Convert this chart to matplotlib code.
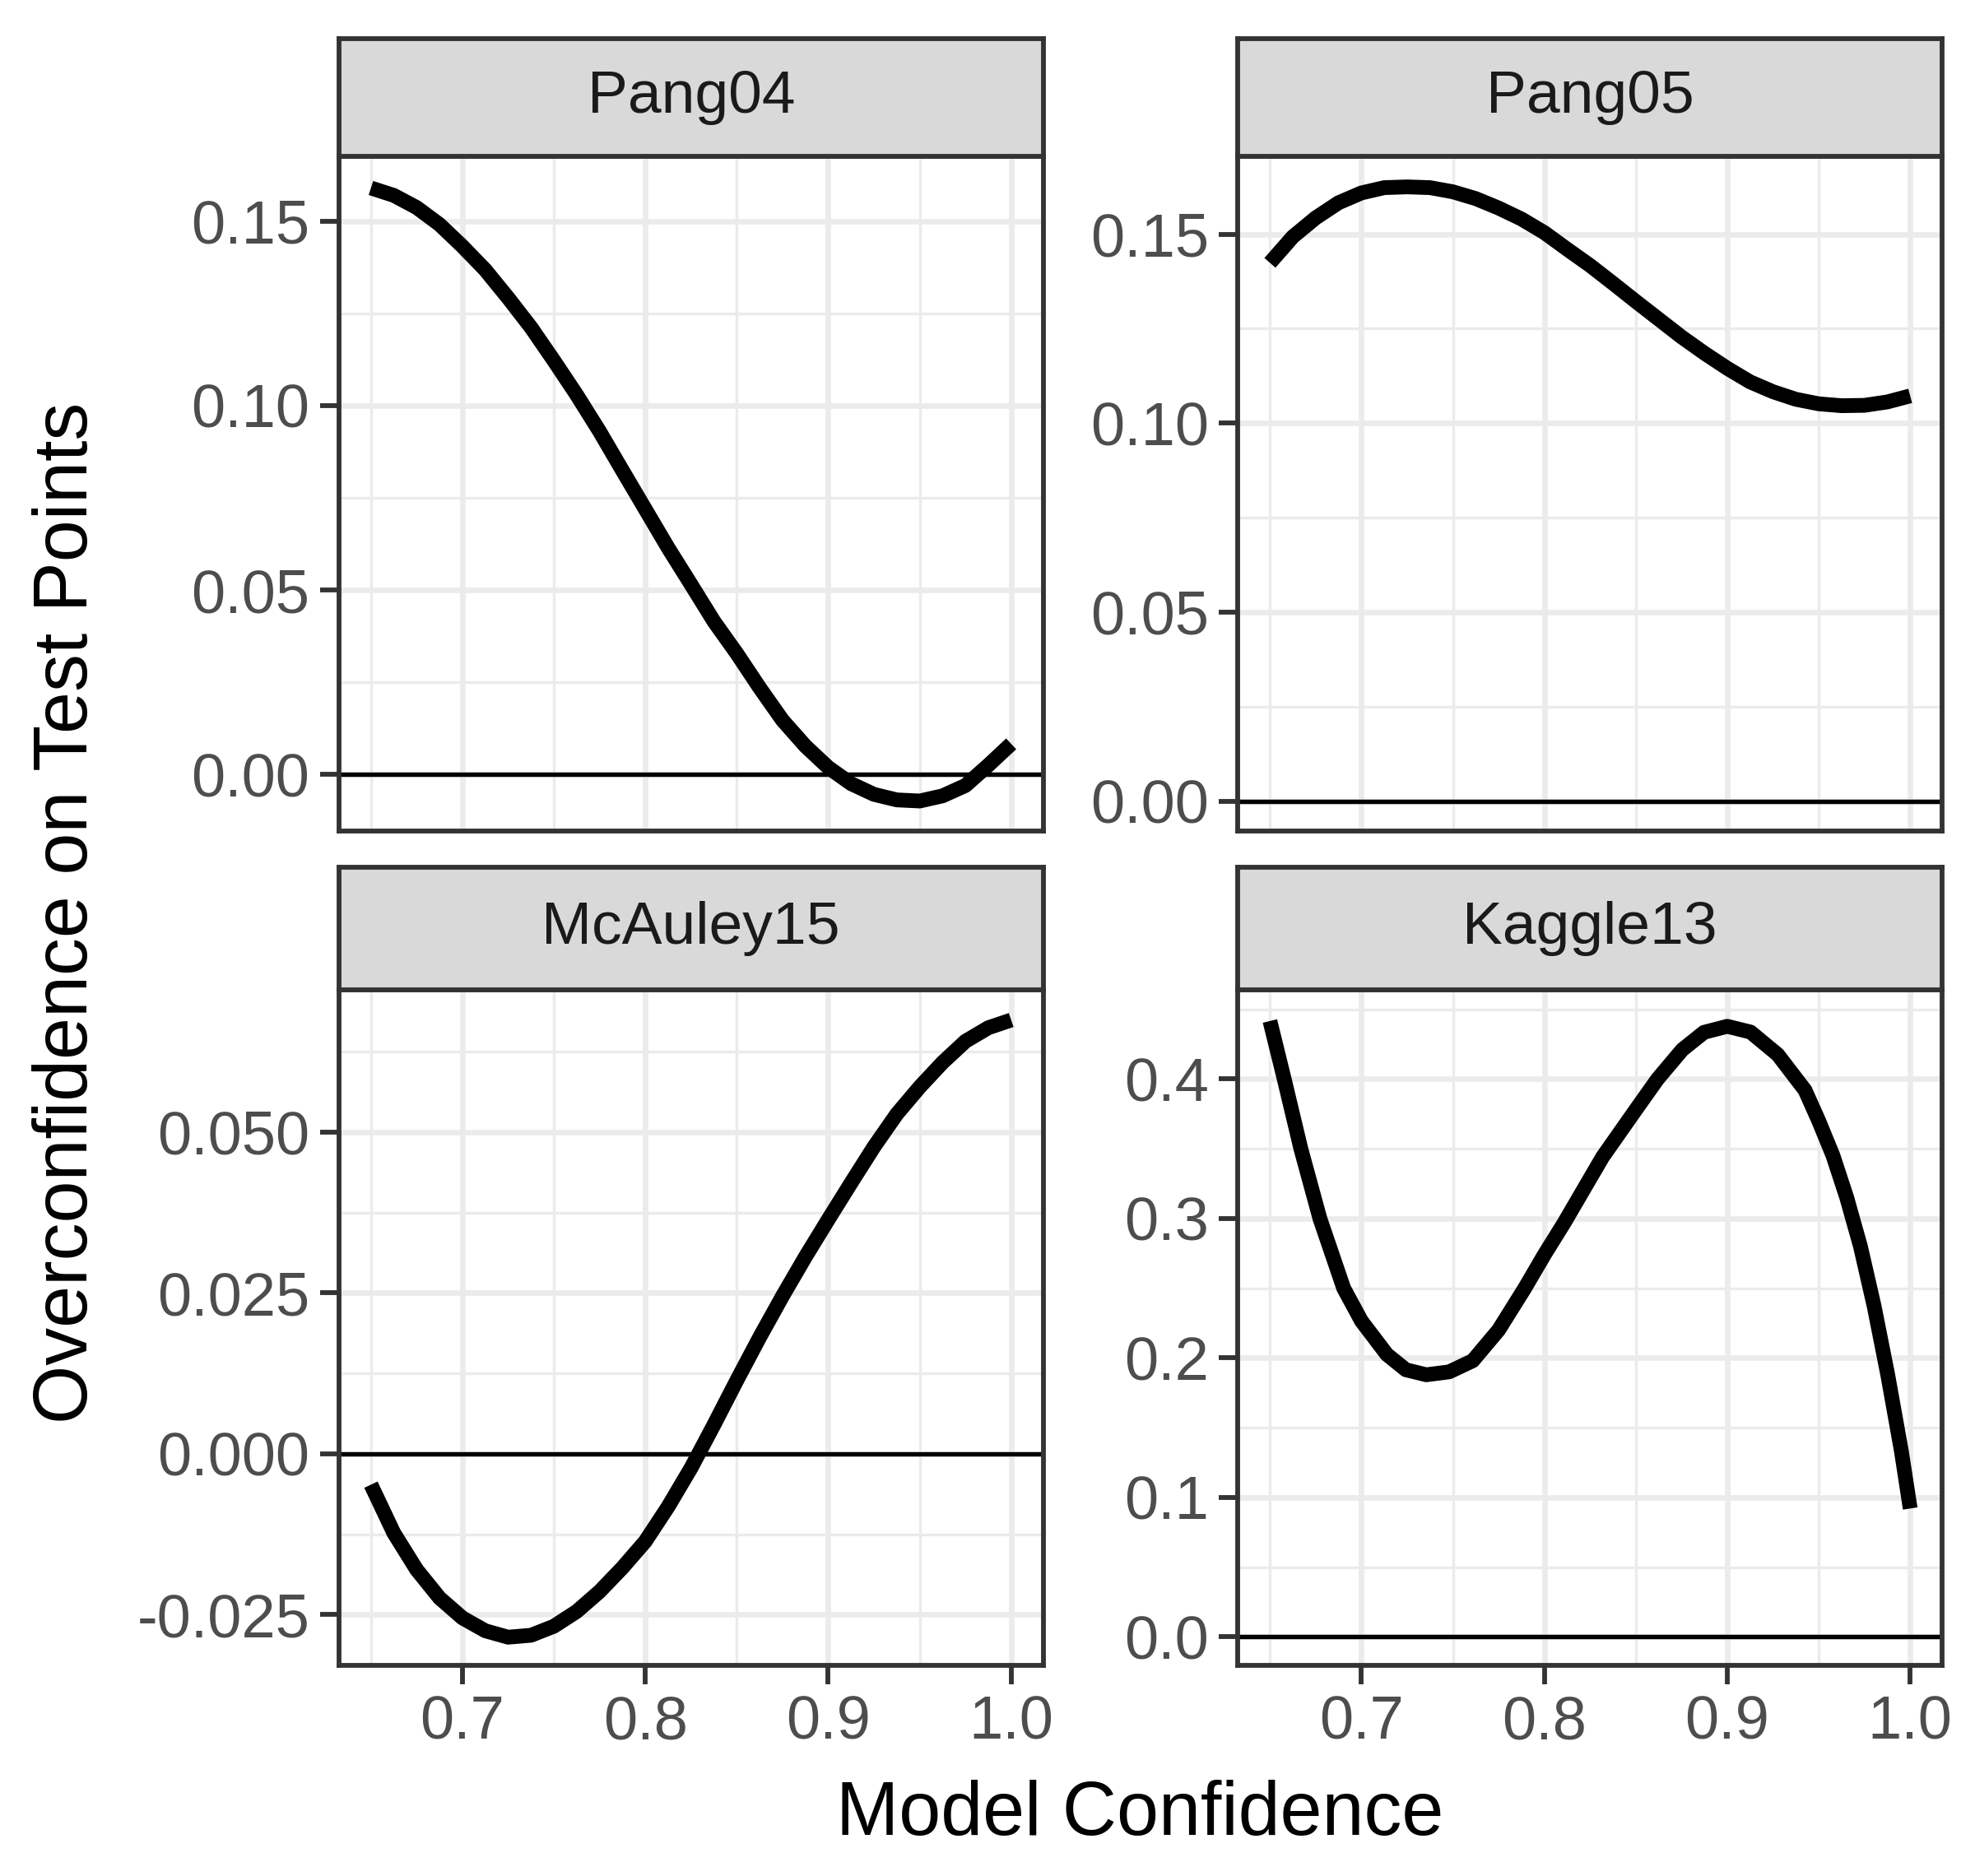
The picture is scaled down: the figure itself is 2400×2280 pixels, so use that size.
import numpy as np
import matplotlib
matplotlib.use("Agg")
import matplotlib.pyplot as plt

plt.rcParams['font.family'] = ['Liberation Sans', 'DejaVu Sans']

# model confidence grid used for the three smoother panels
conf = [0.65, 0.6625, 0.675, 0.6875, 0.70, 0.7125, 0.725, 0.7375, 0.75,
        0.7625, 0.775, 0.7875, 0.80, 0.8125, 0.825, 0.8375, 0.85, 0.8625,
        0.875, 0.8875, 0.90, 0.9125, 0.925, 0.9375, 0.95, 0.9625, 0.975,
        0.9875, 1.00]

# overconfidence curves
pang04 = [0.1590, 0.1570, 0.1537, 0.1491, 0.1432, 0.1368, 0.1292, 0.1212,
          0.1122, 0.1029, 0.0930, 0.0824, 0.0719, 0.0614, 0.0515, 0.0415,
          0.0328, 0.0235, 0.0147, 0.0077, 0.0019, -0.0025, -0.0054, -0.0069,
          -0.0072, -0.0058, -0.0030, 0.0025, 0.0083]
pang05 = [0.1424, 0.1493, 0.1543, 0.1583, 0.1609, 0.1623, 0.1625, 0.1623,
          0.1612, 0.1594, 0.1569, 0.1540, 0.1504, 0.1460, 0.1417, 0.1370,
          0.1322, 0.1275, 0.1228, 0.1185, 0.1145, 0.1109, 0.1083, 0.1063,
          0.1051, 0.1046, 0.1047, 0.1056, 0.1072]
mcauley15 = [-0.0048, -0.0123, -0.0180, -0.0224, -0.0255, -0.0275, -0.0285,
             -0.0282, -0.0268, -0.0245, -0.0214, -0.0177, -0.0136, -0.0082,
             -0.0022, 0.0045, 0.0114, 0.0181, 0.0245, 0.0306, 0.0364, 0.0421,
             0.0477, 0.0528, 0.0570, 0.0608, 0.0641, 0.0662, 0.0674]

# Kaggle13 bends sharply, so it was read at its own (uneven) confidence values
kaggle_conf = [0.65, 0.6578, 0.6669, 0.6773, 0.6903, 0.70, 0.7139, 0.7243,
               0.7355, 0.748, 0.7609, 0.775, 0.7893, 0.80, 0.8109, 0.8318,
               0.85, 0.8619, 0.8754, 0.8873, 0.90, 0.9127, 0.9276, 0.9425,
               0.95, 0.9578, 0.9653, 0.9728, 0.9803, 0.9877, 0.9952, 1.00]
kaggle13 = [0.4416, 0.40, 0.35, 0.30, 0.25, 0.2265, 0.2025, 0.1915, 0.1879,
            0.19, 0.198, 0.220, 0.25, 0.274, 0.297, 0.344, 0.378, 0.400,
            0.421, 0.4335, 0.4378, 0.4337, 0.4175, 0.392, 0.370, 0.345,
            0.315, 0.280, 0.237, 0.188, 0.133, 0.092]

names = ['Pang04', 'Pang05', 'McAuley15', 'Kaggle13']
xs = [conf, conf, conf, kaggle_conf]
curves = [pang04, pang05, mcauley15, kaggle13]

y_ticks = [[0.0, 0.05, 0.10, 0.15],
           [0.0, 0.05, 0.10, 0.15],
           [-0.025, 0.0, 0.025, 0.05],
           [0.0, 0.1, 0.2, 0.3, 0.4]]
y_labels = [['0.00', '0.05', '0.10', '0.15'],
            ['0.00', '0.05', '0.10', '0.15'],
            ['-0.025', '0.000', '0.025', '0.050'],
            ['0.0', '0.1', '0.2', '0.3', '0.4']]
y_minor = [[0.025, 0.075, 0.125],
           [0.025, 0.075, 0.125],
           [-0.0125, 0.0125, 0.0375, 0.0625],
           [0.05, 0.15, 0.25, 0.35, 0.45]]
y_lims = [(-0.0153, 0.1676), (-0.0079, 0.1706), (-0.0329, 0.0721), (-0.0206, 0.464)]

x_ticks = [0.7, 0.8, 0.9, 1.0]
x_labels = ['0.7', '0.8', '0.9', '1.0']
x_minor = [0.65, 0.75, 0.85, 0.95]

W, H = 2400, 2280
fig = plt.figure(figsize=(W / 300, H / 300), dpi=300)

border = '#333333'
grid_c = '#EBEBEB'
lefts = [0.1716, 0.6268]
width = 0.5282 - 0.1716
rows = [(0.0208, 0.0833, 0.4429), (0.4624, 0.5276, 0.8878)]

for i in range(4):
    r, c = divmod(i, 2)
    st_top, st_bot, pl_bot = rows[r]
    left = lefts[c]
    ax = fig.add_axes([left, 1 - pl_bot, width, pl_bot - st_bot])
    sx = fig.add_axes([left, 1 - st_bot, width, st_bot - st_top])

    ax.set_xticks(x_ticks)
    ax.set_xticks(x_minor, minor=True)
    ax.set_yticks(y_ticks[i])
    ax.set_yticks(y_minor[i], minor=True)
    ax.set_yticklabels(y_labels[i])
    if r == 1:
        ax.set_xticklabels(x_labels)
    else:
        ax.set_xticklabels([])
    # limits after the ticks so the tick setters cannot widen them
    ax.set_xlim(0.6325, 1.0175)
    ax.set_ylim(*y_lims[i])

    ax.grid(True, which='major', color=grid_c, lw=1.6, zorder=0)
    ax.grid(True, which='minor', color=grid_c, lw=0.8, zorder=0)
    ax.set_axisbelow(True)
    ax.tick_params(which='minor', length=0)
    ax.tick_params(which='major', length=5.5, width=1.4, color=border,
                   labelsize=17.8, labelcolor='#4D4D4D', pad=3)
    if r == 0:
        ax.tick_params(axis='x', which='major', length=0)
    for s in ax.spines.values():
        s.set_color(border)
        s.set_linewidth(1.4)

    ax.axhline(0, color='black', lw=1.3, zorder=2)
    ax.plot(xs[i], curves[i], color='black', lw=4.3, solid_capstyle='butt',
            solid_joinstyle='round', zorder=3)

    sx.set_facecolor('#D9D9D9')
    sx.set_xticks([])
    sx.set_yticks([])
    for s in sx.spines.values():
        s.set_color(border)
        s.set_linewidth(1.4)
    sx.text(0.5, 0.5, names[i], ha='center', va='center', fontsize=17.6,
            color='#1A1A1A', transform=sx.transAxes)

fig.text(0.577, 1 - 0.9677, 'Model Confidence', ha='center', va='center',
         fontsize=22, color='black')
fig.text(0.034, 1 - 0.4866, 'Overconfidence on Test Points', ha='center',
         va='center', rotation=90, fontsize=22, color='black')

fig.savefig('out.png', dpi=300, facecolor='white')
